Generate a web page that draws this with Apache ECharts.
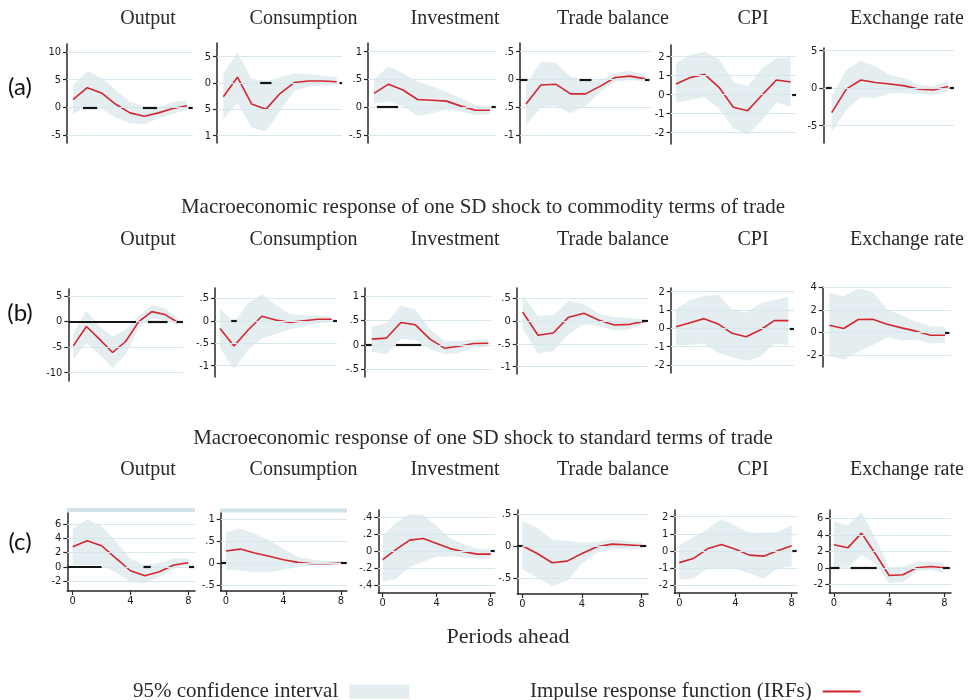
<!DOCTYPE html>
<html><head><meta charset="utf-8">
<script src="https://cdn.jsdelivr.net/npm/echarts@6/dist/echarts.min.js"></script>
<style>html,body{margin:0;padding:0;background:#fff}#c{width:970px;height:700px}</style>
</head><body><div id="c"></div>
<script>
// ---------------- DATA ----------------
const periods = [0, 1, 2, 3, 4, 5, 6, 7, 8];
const variables = ['Output', 'Consumption', 'Investment', 'Trade balance', 'CPI', 'Exchange rate'];
const rowLabels = ['(a)', '(b)', '(c)'];
const subtitles = ['Macroeconomic response of one SD shock to commodity terms of trade',
                   'Macroeconomic response of one SD shock to standard terms of trade'];
const xAxisTitle = 'Periods ahead';
const legendBand = '95% confidence interval';
const legendIrf = 'Impulse response function (IRFs)';
const xTicks = [0, 4, 8];
const xTickLabels = ['0', '4', '8'];

// Row (a)
const irfA_output = [1.4, 3.55, 2.6, 0.55, -1.0, -1.6, -1.0, -0.2, 0.3];
const hiA_output  = [3.97, 6.55, 5.35, 3.07, 0.96, 0.18, 0.06, 0.96, 1.26];
const loA_output  = [-1.14, 0.18, -0.24, -1.86, -2.83, -3.07, -2.04, -1.14, -0.54];
const ticksA_output = [-5, 0, 5, 10];  const labelsA_output = ['-5', '0', '5', '10'];
const zeroA_output = [[0.7, 1.7], [4.9, 5.9], [8.1, 8.4]];

const irfA_cons = [-0.26, 0.11, -0.40, -0.50, -0.20, 0.01, 0.04, 0.04, 0.025];
const hiA_cons  = [0.17, 0.58, 0.08, 0.04, 0.11, 0.18, 0.17, 0.14, 0.11];
const loA_cons  = [-0.69, -0.37, -0.85, -0.92, -0.53, -0.15, -0.07, -0.05, -0.03];
const ticksA_cons = [-1, -0.5, 0, 0.5];  const labelsA_cons = ['1', '5', '0', '5'];
const zeroA_cons = [[2.6, 3.4], [8.2, 8.5]];

const irfA_inv = [0.25, 0.415, 0.31, 0.14, 0.125, 0.11, 0.02, -0.055, -0.055];
const hiA_inv  = [0.5, 0.74, 0.61, 0.46, 0.38, 0.28, 0.16, 0.04, 0.02];
const loA_inv  = [0.07, 0.1, 0.02, -0.16, -0.11, -0.04, -0.08, -0.14, -0.13];
const ticksA_inv = [-0.5, 0, 0.5, 1];  const labelsA_inv = ['-.5', '0', '.5', '1'];
const zeroA_inv = [[0.2, 1.66], [8.1, 8.4]];

const irfA_trade = [-0.44, -0.10, -0.085, -0.26, -0.26, -0.12, 0.035, 0.06, 0.01];
const hiA_trade  = [-0.10, 0.32, 0.30, 0.05, -0.01, -0.02, 0.12, 0.155, 0.095];
const loA_trade  = [-0.82, -0.50, -0.48, -0.61, -0.48, -0.22, -0.04, -0.01, -0.04];
const ticksA_trade = [-1, -0.5, 0, 0.5];  const labelsA_trade = ['-1', '.5', '0', '.5'];
const zeroA_trade = [[-0.4, 0.1], [3.6, 4.4], [8.0, 8.3]];

const irfA_cpi = [0.56, 0.91, 1.07, 0.39, -0.66, -0.84, -0.02, 0.77, 0.67];
const hiA_cpi  = [1.68, 2.09, 2.26, 1.86, 0.68, 0.46, 1.39, 1.91, 1.97];
const loA_cpi  = [-0.42, -0.28, -0.14, -0.72, -1.77, -2.12, -1.33, -0.42, -0.63];
const ticksA_cpi = [-2, -1, 0, 1, 2];  const labelsA_cpi = ['-2', '-1', '0', '1', '2'];
const zeroA_cpi = [[8.1, 8.4]];

const irfA_exch = [-3.25, -0.13, 1.1, 0.75, 0.57, 0.31, -0.13, -0.23, 0.22];
const hiA_exch  = [-1.12, 2.44, 3.68, 2.88, 1.77, 1.33, 0.44, 0.31, 1.01];
const loA_exch  = [-5.92, -2.89, -1.2, -1.33, -0.67, -0.67, -0.76, -0.89, -0.45];
const ticksA_exch = [-5, 0, 5];  const labelsA_exch = ['-5', '0', '5'];
const zeroA_exch = [[-0.4, 0], [8.1, 8.4]];

// Row (b)
const irfB_output = [-4.75, -0.97, -3.44, -6.05, -3.9, 0, 1.95, 1.37, -0.19];
const hiB_output  = [-2.27, 2.15, -0.97, -2.92, -1.62, 1.11, 3.26, 2.6, 0.66];
const loB_output  = [-7.35, -4.23, -6.5, -9.1, -6.5, -1.3, 0.66, 0.33, -0.84];
const ticksB_output = [-10, -5, 0, 5];  const labelsB_output = ['-10', '-5', '0', '5'];
const zeroB_output = [[-0.4, 4.8], [5.7, 7.2], [7.9, 8.4]];

const irfB_cons = [-0.17, -0.56, -0.21, 0.10, 0.015, -0.035, 0, 0.035, 0.035];
const hiB_cons  = [0.275, -0.045, 0.39, 0.59, 0.35, 0.15, 0.125, 0.125, 0.09];
const loB_cons  = [-0.61, -1.08, -0.65, -0.39, -0.30, -0.19, -0.12, -0.06, -0.02];
const ticksB_cons = [-1, -0.5, 0, 0.5];  const labelsB_cons = ['-1', '-.5', '0', '.5'];
const zeroB_cons = [[0.8, 1.2], [8.1, 8.4]];

const irfB_inv = [0.117, 0.137, 0.458, 0.41, 0.117, -0.068, -0.027, 0.027, 0.034];
const hiB_inv  = [0.37, 0.44, 0.80, 0.73, 0.32, 0.08, 0.08, 0.1, 0.12];
const loB_inv  = [-0.14, -0.19, 0.12, 0.1, -0.09, -0.19, -0.16, -0.055, -0.04];
const ticksB_inv = [-0.5, 0, 0.5, 1];  const labelsB_inv = ['-.5', '0', '.5', '1'];
const zeroB_inv = [[-0.4, 0], [1.66, 3.4]];

const irfB_trade = [0.2, -0.31, -0.26, 0.086, 0.17, 0.02, -0.086, -0.071, 0];
const hiB_trade  = [0.56, 0.11, 0.13, 0.44, 0.37, 0.16, 0.086, 0.07, 0.036];
const loB_trade  = [-0.18, -0.71, -0.66, -0.29, -0.07, -0.11, -0.21, -0.18, -0.036];
const ticksB_trade = [-1, -0.5, 0, 0.5];  const labelsB_trade = ['-1', '-.5', '0', '.5'];
const zeroB_trade = [[7.8, 8.3]];

const irfB_cpi = [0.09, 0.31, 0.53, 0.24, -0.27, -0.46, -0.09, 0.42, 0.42];
const hiB_cpi  = [1.04, 1.55, 1.76, 1.82, 1.04, 0.85, 1.36, 1.55, 1.73];
const loB_cpi  = [-0.91, -0.91, -0.82, -1.33, -1.58, -1.77, -1.55, -0.82, -0.91];
const ticksB_cpi = [-2, -1, 0, 1, 2];  const labelsB_cpi = ['-2', '-1', '0', '1', '2'];
const zeroB_cpi = [[8.1, 8.4]];

const irfB_exch = [0.65, 0.36, 1.16, 1.18, 0.74, 0.41, 0.12, -0.24, -0.24];
const hiB_exch  = [3.52, 3.23, 3.91, 3.61, 2.04, 1.54, 0.95, 0.56, 0.5];
const loB_exch  = [-2.1, -2.4, -1.72, -1.13, -0.44, -0.68, -0.62, -0.98, -0.92];
const ticksB_exch = [-2, 0, 2, 4];  const labelsB_exch = ['-2', '0', '2', '4'];
const zeroB_exch = [[8.0, 8.3]];

// Row (c)
const irfC_output = [2.8, 3.65, 2.95, 1.17, -0.56, -1.26, -0.7, 0.24, 0.56];
const hiC_output  = [5.38, 6.64, 5.7, 3.5, 1.17, 0.24, 0.56, 1.17, 1.17];
const loC_output  = [0.24, 0.24, 0.24, -0.84, -2.1, -2.33, -1.4, -0.23, 0.24];
const ticksC_output = [-2, 0, 2, 4, 6];  const labelsC_output = ['-2', '0', '2', '4', '6'];
const zeroC_output = [[-0.4, 2.0], [4.9, 5.4], [8.05, 8.4]];

const irfC_cons = [0.275, 0.32, 0.23, 0.155, 0.078, 0.016, -0.015, -0.015, 0];
const hiC_cons  = [0.71, 0.79, 0.67, 0.52, 0.33, 0.14, 0.08, 0.046, 0.046];
const loC_cons  = [-0.15, -0.17, -0.21, -0.21, -0.15, -0.09, -0.053, -0.038, -0.03];
const ticksC_cons = [-0.5, 0, 0.5, 1];  const labelsC_cons = ['-.5', '0', '.5', '1'];
const zeroC_cons = [[-0.4, 0], [8.0, 8.4]];

const irfC_inv = [-0.1, 0.02, 0.13, 0.15, 0.09, 0.03, -0.008, -0.035, -0.035];
const hiC_inv  = [0.19, 0.335, 0.44, 0.426, 0.296, 0.15, 0.083, 0.032, 0.02];
const loC_inv  = [-0.363, -0.324, -0.186, -0.126, -0.067, -0.059, -0.075, -0.087, -0.087];
const ticksC_inv = [-0.4, -0.2, 0, 0.2, 0.4];  const labelsC_inv = ['-.4', '-.2', '0', '.2', '.4'];
const zeroC_inv = [[8.0, 8.3]];

const irfC_trade = [0.005, -0.114, -0.258, -0.233, -0.114, -0.01, 0.031, 0.021, 0.005];
const hiC_trade  = [0.39, 0.29, 0.104, 0.083, 0.052, 0.067, 0.104, 0.083, 0.052];
const loC_trade  = [-0.36, -0.486, -0.62, -0.54, -0.27, -0.1, -0.052, -0.036, -0.036];
const ticksC_trade = [-0.5, 0, 0.5];  const labelsC_trade = ['-.5', '0', '.5'];
const zeroC_trade = [[-0.4, 0], [7.9, 8.3]];

const irfC_cpi = [-0.69, -0.45, 0.12, 0.37, 0.1, -0.25, -0.31, 0, 0.3];
const hiC_cpi  = [0.34, 0.79, 1.26, 1.85, 1.45, 1.06, 1.06, 1.12, 1.51];
const loC_cpi  = [-1.68, -1.62, -1.04, -1.04, -1.04, -1.33, -1.62, -1.04, -0.9];
const ticksC_cpi = [-2, -1, 0, 1, 2];  const labelsC_cpi = ['-2', '-1', '0', '1', '2'];
const zeroC_cpi = [[8.05, 8.35]];

const irfC_exch = [2.79, 2.42, 4.2, 1.7, -0.93, -0.85, 0, 0.16, 0];
const hiC_exch  = [5.65, 5.13, 6.74, 3.63, 0.08, 0.16, 0.68, 0.8, 0.56];
const loC_exch  = [0, 0, 1.61, 0.48, -1.86, -1.74, -0.41, -0.24, -0.65];
const ticksC_exch = [-2, 0, 2, 4, 6];  const labelsC_exch = ['-2', '0', '2', '4', '6'];
const zeroC_exch = [[-0.4, 0.4], [1.2, 3.1], [7.9, 8.4]];

// ---------------- ASSEMBLY ----------------
const panels = [
  [irfA_output, hiA_output, loA_output, ticksA_output, labelsA_output, zeroA_output],
  [irfA_cons, hiA_cons, loA_cons, ticksA_cons, labelsA_cons, zeroA_cons],
  [irfA_inv, hiA_inv, loA_inv, ticksA_inv, labelsA_inv, zeroA_inv],
  [irfA_trade, hiA_trade, loA_trade, ticksA_trade, labelsA_trade, zeroA_trade],
  [irfA_cpi, hiA_cpi, loA_cpi, ticksA_cpi, labelsA_cpi, zeroA_cpi],
  [irfA_exch, hiA_exch, loA_exch, ticksA_exch, labelsA_exch, zeroA_exch],
  [irfB_output, hiB_output, loB_output, ticksB_output, labelsB_output, zeroB_output],
  [irfB_cons, hiB_cons, loB_cons, ticksB_cons, labelsB_cons, zeroB_cons],
  [irfB_inv, hiB_inv, loB_inv, ticksB_inv, labelsB_inv, zeroB_inv],
  [irfB_trade, hiB_trade, loB_trade, ticksB_trade, labelsB_trade, zeroB_trade],
  [irfB_cpi, hiB_cpi, loB_cpi, ticksB_cpi, labelsB_cpi, zeroB_cpi],
  [irfB_exch, hiB_exch, loB_exch, ticksB_exch, labelsB_exch, zeroB_exch],
  [irfC_output, hiC_output, loC_output, ticksC_output, labelsC_output, zeroC_output],
  [irfC_cons, hiC_cons, loC_cons, ticksC_cons, labelsC_cons, zeroC_cons],
  [irfC_inv, hiC_inv, loC_inv, ticksC_inv, labelsC_inv, zeroC_inv],
  [irfC_trade, hiC_trade, loC_trade, ticksC_trade, labelsC_trade, zeroC_trade],
  [irfC_cpi, hiC_cpi, loC_cpi, ticksC_cpi, labelsC_cpi, zeroC_cpi],
  [irfC_exch, hiC_exch, loC_exch, ticksC_exch, labelsC_exch, zeroC_exch]
];

// ---------------- LAYOUT (pixels) ----------------
const geom = [
  {L:67, R:193, p0:73, p8:187, T:44, B:143, vHi:10, pHi:52, vLo:-5, pLo:135},
  {L:217, R:342, p0:223.3, p8:336.7, T:43, B:143, vHi:0.5, pHi:56.7, vLo:-1, pLo:135.7},
  {L:368, R:496, p0:374, p8:490, T:43, B:143, vHi:1, pHi:51.7, vLo:-0.5, pLo:135},
  {L:520, R:651, p0:526, p8:645, T:43, B:143, vHi:0.5, pHi:51.7, vLo:-1, pLo:135},
  {L:670.5, R:796, p0:676, p8:790.7, T:45, B:144, vHi:2, pHi:56.7, vLo:-2, pLo:132.7},
  {L:823.3, R:954, p0:831.7, p8:948.3, T:48, B:143, vHi:5, pHi:50.7, vLo:-5, pLo:125.7},
  {L:68.3, R:183, p0:73.3, p8:178, T:289, B:381, vHi:5, pHi:296, vLo:-10, pLo:372.7},
  {L:215, R:337, p0:220, p8:331.7, T:288, B:377, vHi:0.5, pHi:298.3, vLo:-1, pLo:365.7},
  {L:365, R:491, p0:371.7, p8:488.3, T:288, B:377, vHi:1, pHi:296, vLo:-0.5, pLo:369.3},
  {L:516.7, R:648, p0:522.7, p8:645, T:288, B:374, vHi:0.5, pHi:298.3, vLo:-1, pLo:366.7},
  {L:670.7, R:794, p0:676, p8:788.3, T:288, B:373, vHi:2, pHi:291.7, vLo:-2, pLo:365},
  {L:822.7, R:951, p0:829.3, p8:945, T:287, B:367, vHi:2, pHi:310, vLo:-2, pLo:355},
  {L:67.3, R:195, p0:72.7, p8:188.3, T:513, B:591, vHi:6, pHi:524, vLo:-2, pLo:581},
  {L:220.7, R:347, p0:226, p8:341, T:513, B:591, vHi:1, pHi:519.3, vLo:-0.5, pLo:585},
  {L:378.3, R:495, p0:382.7, p8:490.7, T:510, B:593, vHi:0.4, pHi:517.3, vLo:-0.4, pLo:585},
  {L:517.3, R:648, p0:522.3, p8:641.7, T:510, B:594, vHi:0.5, pHi:514, vLo:-0.5, pLo:578.3},
  {L:674.3, R:797, p0:679.3, p8:791.7, T:510, B:593, vHi:2, pHi:516.7, vLo:-2, pLo:585},
  {L:829.3, R:951, p0:834, p8:944.3, T:510, B:593, vHi:6, pHi:518.3, vLo:-2, pLo:584.3}
];
const titleX = [148, 303.5, 455, 613, 753, 907];
const titleY = [18.5, 240, 469.5];
const rowLabelY = [87.5, 313, 542];
const subtitleY = [207, 438];

const RED = '#d4262f', BAND = '#e4eef1', GRIDC = '#d6e7ee', AXC = '#262626', TXT = '#2a2a2a';
const SERIF = "'Liberation Serif','DejaVu Serif',serif";
const NARROW = "'Liberation Sans Narrow','DejaVu Sans Condensed','Liberation Sans',sans-serif";

const grids = [], xAxes = [], yAxes = [], series = [];
panels.forEach((p, i) => {
  const [irf, hi, lo, ticks, labels, zero] = p;
  const g = geom[i];
  const row = Math.floor(i / 6);
  const xu = (g.p8 - g.p0) / 8;
  const xMin = -(g.p0 - g.L) / xu, xMax = 8 + (g.R - g.p8) / xu;
  const ys = (g.pLo - g.pHi) / (g.vHi - g.vLo);
  const yMax = g.vHi + (g.pHi - g.T) / ys, yMin = g.vLo - (g.B - g.pLo) / ys;
  grids.push({left: g.L, top: g.T, width: g.R - g.L, height: g.B - g.T, containLabel: false});
  const showX = row === 2;
  xAxes.push({
    type: 'value', gridIndex: i, min: xMin, max: xMax, show: showX,
    axisLine: {show: showX, onZero: false, lineStyle: {color: AXC, width: 1.5}},
    axisTick: {show: showX, customValues: xTicks, length: 4, lineStyle: {color: AXC, width: 1.2}},
    axisLabel: {show: showX, customValues: xTicks, margin: 5, fontSize: 11, fontFamily: NARROW, color: '#1a1a1a',
      formatter: v => { const k = xTicks.findIndex(t => Math.abs(t - v) < 1e-9); return k >= 0 ? xTickLabels[k] : ''; }},
    splitLine: {show: false}
  });
  yAxes.push({
    type: 'value', gridIndex: i, min: yMin, max: yMax,
    axisLine: {show: true, onZero: false, lineStyle: {color: AXC, width: 1.5}},
    axisTick: {show: true, customValues: ticks, length: 4, lineStyle: {color: AXC, width: 1.2}},
    axisLabel: {customValues: ticks, margin: 6, fontSize: 11, fontFamily: NARROW, color: '#1a1a1a',
      formatter: v => { const k = ticks.findIndex(t => Math.abs(t - v) < 1e-9); return k >= 0 ? labels[k] : ''; }},
    splitLine: {show: false}
  });
  // grid lines at the tick values
  series.push({
    type: 'line', name: 'grid' + i, xAxisIndex: i, yAxisIndex: i, data: [], silent: true, z: 1,
    markLine: {silent: true, symbol: ['none', 'none'], label: {show: false}, animation: false,
      lineStyle: {color: GRIDC, width: 1, type: 'solid'}, emphasis: {disabled: true},
      data: ticks.map(v => ({yAxis: v}))}
  });
  // confidence band as one polygon through the axis scales
  const bandData = periods.map((x, k) => [x, lo[k], hi[k]]);
  series.push({
    type: 'custom', name: legendBand, xAxisIndex: i, yAxisIndex: i, silent: true, z: 2,
    itemStyle: {color: BAND},
    encode: {x: 0, y: [1, 2]},
    data: bandData,
    renderItem: (params, api) => {
      if (params.dataIndex !== 0) return null;
      const upper = bandData.map(d => api.coord([d[0], d[2]]));
      const lower = bandData.map(d => api.coord([d[0], d[1]])).reverse();
      return {type: 'polygon', shape: {points: upper.concat(lower)}, style: {fill: BAND, stroke: null}};
    }
  });
  // zero reference segments
  series.push({
    type: 'line', name: 'zero' + i, xAxisIndex: i, yAxisIndex: i, data: [], silent: true, z: 3,
    markLine: {silent: true, symbol: ['none', 'none'], label: {show: false}, animation: false,
      lineStyle: {color: '#151515', width: 2.2, type: 'solid'}, emphasis: {disabled: true},
      data: zero.map(s => [{coord: [Math.max(s[0], xMin + 1e-6), 0]}, {coord: [Math.min(s[1], xMax - 1e-6), 0]}])}
  });
  // impulse response
  series.push({
    type: 'line', name: legendIrf, xAxisIndex: i, yAxisIndex: i,
    data: periods.map((x, k) => [x, irf[k]]), symbol: 'none', silent: true, z: 4,
    lineStyle: {color: RED, width: 1.6}, itemStyle: {color: RED}
  });
});

const graphics = [];
rowLabels.forEach((t, r) => {
  graphics.push({type: 'text', x: 20, y: rowLabelY[r], style: {text: t, fill: '#111', font: "24px Lato, 'Open Sans', sans-serif", textAlign: 'center', textVerticalAlign: 'middle'}});
  variables.forEach((v, c) => {
    graphics.push({type: 'text', x: titleX[c], y: titleY[r], style: {text: v, fill: TXT, font: '20px ' + SERIF, textAlign: 'center', textVerticalAlign: 'middle'}});
  });
});
subtitles.forEach((t, k) => {
  graphics.push({type: 'text', x: 483, y: subtitleY[k], style: {text: t, fill: TXT, font: '21px ' + SERIF, textAlign: 'center', textVerticalAlign: 'middle'}});
});
graphics.push({type: 'text', x: 508, y: 637, style: {text: xAxisTitle, fill: TXT, font: '22px ' + SERIF, textAlign: 'center', textVerticalAlign: 'middle'}});
graphics.push({type: 'rect', shape: {x: 67, y: 508, width: 128, height: 4}, style: {fill: '#d3e3eb'}});
graphics.push({type: 'rect', shape: {x: 220, y: 508.5, width: 127, height: 4}, style: {fill: '#d3e3eb'}});

const chart = echarts.init(document.getElementById('c'), null, {renderer: 'canvas', width: 970, height: 700});
chart.setOption({
  animation: false,
  backgroundColor: '#ffffff',
  grid: grids, xAxis: xAxes, yAxis: yAxes, series: series,
  legend: [
    {data: [{name: legendBand, itemStyle: {color: BAND}}], left: 128, top: 676, align: 'right', icon: 'rect',
      itemWidth: 60, itemHeight: 14, selectedMode: false,
      textStyle: {fontFamily: SERIF, fontSize: 21, color: TXT, padding: [0, 6, 0, 0]}},
    {data: [{name: legendIrf, itemStyle: {color: RED}}], left: 525, top: 676, align: 'right', icon: 'rect',
      itemWidth: 38, itemHeight: 2, selectedMode: false,
      textStyle: {fontFamily: SERIF, fontSize: 21, color: TXT, padding: [0, 6, 0, 0]}}
  ],
  graphic: graphics
});
</script>
</body></html>
